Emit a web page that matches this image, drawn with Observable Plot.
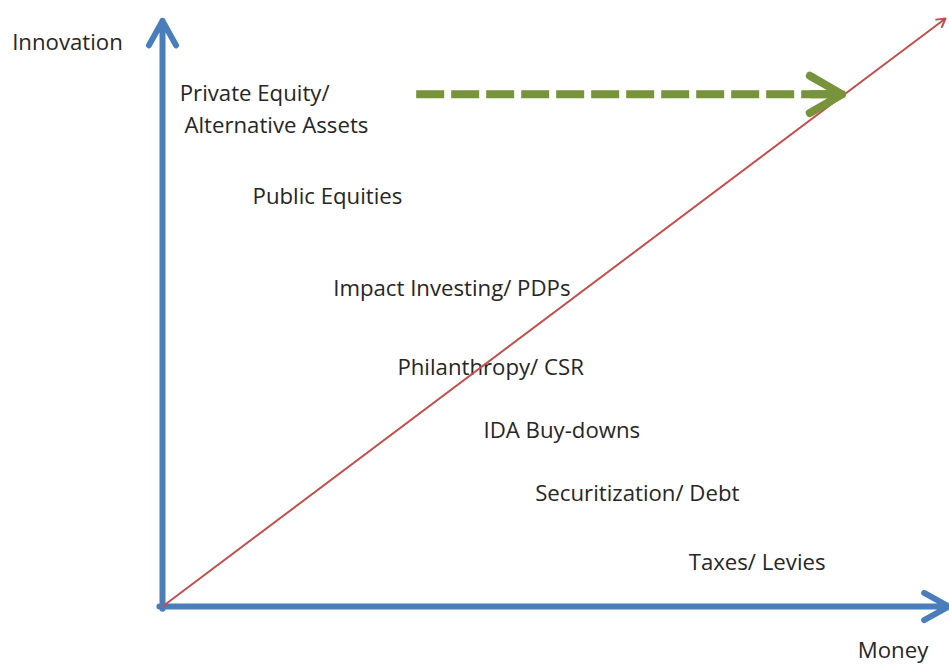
<!DOCTYPE html>
<html>
<head>
<meta charset="utf-8">
<script src="https://cdn.jsdelivr.net/npm/d3@7"></script>
<script src="https://cdn.jsdelivr.net/npm/@observablehq/plot@0.6"></script>
<style>
  html, body { margin: 0; padding: 0; background: #fff; }
  #chart svg { display: block; }
</style>
</head>
<body>
<div id="chart"></div>
<script>
// Conceptual positions on a 0–100 "money" (x) by 0–100 "innovation" (y) plane
const labels = ["Private Equity/", "Alternative Assets", "Public Equities", "Impact Investing/ PDPs",
                "Philanthropy/ CSR", "IDA Buy-downs", "Securitization/ Debt", "Taxes/ Levies"];
const labelMoney = [2.2, 2.8, 11.5, 21.8, 30.0, 41.0, 47.6, 67.2];
const labelInnovation = [87.1, 81.8, 69.7, 54.1, 40.6, 29.9, 19.2, 7.5];

const axisTitles = ["Innovation", "Money"];
const axisTitleX = [-19.2, 88.8];
const axisTitleY = [95.9, -7.6];

// Axes arrows (money axis, innovation axis)
const axesArrows = [
  {x1: -0.4, y1: 0, x2: 100.4, y2: 0},
  {x1: 0, y1: -0.4, x2: 0, y2: 99.6}
];
// Diagonal trend
const diagonal = [{x1: 0, y1: 0, x2: 100, y2: 100}];
// Green dashed shift arrow
const shift = [{x1: 32.4, y1: 87.1, x2: 86.8, y2: 87.1}];

const labelRows = labels.map((t, i) => ({t, x: labelMoney[i], y: labelInnovation[i]}));
const titleRows = axisTitles.map((t, i) => ({t, x: axisTitleX[i], y: axisTitleY[i]}));

const font = "'Open Sans', Lato, sans-serif";

const chart = Plot.plot({
  width: 949,
  height: 668,
  marginLeft: 162,
  marginRight: 4,
  marginTop: 18,
  marginBottom: 62,
  x: {domain: [0, 100], axis: null},
  y: {domain: [0, 100], axis: null},
  style: {fontFamily: font, background: "#fff"},
  marks: [
    Plot.text(labelRows, {x: "x", y: "y", text: "t", textAnchor: "start", fontSize: 22.2, fill: "#262626", fontFamily: font}),
    Plot.text(titleRows, {x: "x", y: "y", text: "t", textAnchor: "start", fontSize: 22.2, fill: "#262626", fontFamily: font}),
    Plot.arrow(axesArrows, {x1: "x1", y1: "y1", x2: "x2", y2: "y2", stroke: "#4a7ebb", strokeWidth: 6, headLength: 7, headAngle: 58}),
    Plot.arrow(diagonal, {x1: "x1", y1: "y1", x2: "x2", y2: "y2", stroke: "#c0504d", strokeWidth: 2, headLength: 7, headAngle: 60}),
    Plot.link(shift, {x1: "x1", y1: "y1", x2: "x2", y2: "y2", stroke: "#77933c", strokeWidth: 8, strokeDasharray: "28,7", insetEnd: 14}),
    Plot.arrow(shift, {x1: "x1", y1: "y1", x2: "x2", y2: "y2", stroke: "#77933c", strokeWidth: 8, headLength: 7, headAngle: 60, insetStart: 395})
  ]
});
document.getElementById("chart").appendChild(chart);
</script>
</body>
</html>
